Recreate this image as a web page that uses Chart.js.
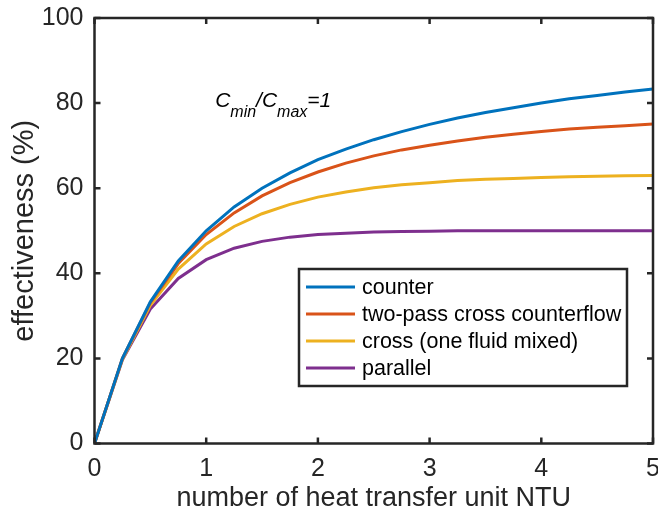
<!DOCTYPE html>
<html>
<head>
<meta charset="utf-8">
<style>
  html, body { margin: 0; padding: 0; background: #fff; }
  #wrap { width: 658px; height: 517px; }
</style>
<script src="https://cdn.jsdelivr.net/npm/chart.js@4/dist/chart.umd.min.js"></script>
</head>
<body>
<div id="wrap"><canvas id="chart" width="658" height="517"></canvas></div>
<script>
// NTU values (x) and effectiveness in % for each arrangement, Cmin/Cmax = 1
const ntu = [0, 0.25, 0.5, 0.75, 1, 1.25, 1.5, 1.75, 2, 2.25, 2.5, 2.75, 3, 3.25, 3.5, 3.75, 4, 4.25, 4.5, 4.75, 5];
const counter = [0, 20.0, 33.3, 42.9, 50.0, 55.6, 60.0, 63.6, 66.7, 69.2, 71.4, 73.3, 75.0, 76.5, 77.8, 78.9, 80.0, 81.0, 81.8, 82.6, 83.3];
const twoPass = [0, 20.0, 33.1, 42.3, 49.1, 54.2, 58.2, 61.3, 63.8, 65.9, 67.6, 69.0, 70.1, 71.1, 72.0, 72.7, 73.3, 73.9, 74.3, 74.7, 75.1];
const crossMixed = [0, 19.8, 32.5, 41.0, 46.9, 51.0, 54.0, 56.2, 57.9, 59.1, 60.1, 60.8, 61.3, 61.8, 62.1, 62.3, 62.5, 62.7, 62.8, 62.9, 63.0];
const parallel = [0, 19.7, 31.6, 38.8, 43.2, 45.9, 47.5, 48.5, 49.1, 49.4, 49.7, 49.8, 49.9, 50.0, 50.0, 50.0, 50.0, 50.0, 50.0, 50.0, 50.0];

const seriesNames = ["counter", "two-pass cross counterflow", "cross (one fluid mixed)", "parallel"];
const seriesColors = ["#0072BD", "#D95319", "#EDB120", "#7E2F8E"];
const seriesValues = [counter, twoPass, crossMixed, parallel];

const xTicks = [0, 1, 2, 3, 4, 5];
const yTicks = [0, 20, 40, 60, 80, 100];

const axisColor = "#262626";
const fontName = "'Liberation Sans', Arial, sans-serif";

// box round the plot, inward ticks on all four sides, annotation and legend
const matlabAxes = {
  id: "matlabAxes",
  afterDatasetsDraw(chart) {
    const { ctx, chartArea: a, scales } = chart;
    const x = scales.x, y = scales.y;
    ctx.save();
    ctx.strokeStyle = axisColor;
    ctx.lineWidth = 2.5;
    ctx.beginPath();
    xTicks.forEach(v => {
      const px = x.getPixelForValue(v);
      ctx.moveTo(px, a.bottom); ctx.lineTo(px, a.bottom - 6);
      ctx.moveTo(px, a.top); ctx.lineTo(px, a.top + 6);
    });
    yTicks.forEach(v => {
      const py = y.getPixelForValue(v);
      ctx.moveTo(a.left, py); ctx.lineTo(a.left + 6, py);
      ctx.moveTo(a.right, py); ctx.lineTo(a.right - 6, py);
    });
    ctx.stroke();
    ctx.strokeRect(a.left, a.top, a.right - a.left, a.bottom - a.top);

    // C_min/C_max=1
    let tx = x.getPixelForValue(1.08);
    const ty = y.getPixelForValue(79.2);
    const parts = [["C", 0], ["min", 1], ["/C", 0], ["max", 1], ["=1", 0]];
    ctx.fillStyle = "#000";
    ctx.textBaseline = "alphabetic";
    ctx.textAlign = "left";
    parts.forEach(([s, sub]) => {
      ctx.font = sub ? "italic 16px " + fontName : "italic 21px " + fontName;
      ctx.fillText(s, tx, sub ? ty + 10 : ty);
      tx += ctx.measureText(s).width;
    });

    // legend
    const lx = 299, ly = 269, lw = 328, lh = 117;
    ctx.fillStyle = "#fff";
    ctx.fillRect(lx, ly, lw, lh);
    ctx.strokeStyle = axisColor;
    ctx.lineWidth = 2.5;
    ctx.strokeRect(lx, ly, lw, lh);
    ctx.font = "21.5px " + fontName;
    ctx.textBaseline = "middle";
    chart.data.datasets.forEach((ds, i) => {
      const ry = ly + 18 + i * 27;
      ctx.strokeStyle = ds.borderColor;
      ctx.lineWidth = 3;
      ctx.beginPath();
      ctx.moveTo(lx + 7, ry);
      ctx.lineTo(lx + 56, ry);
      ctx.stroke();
      ctx.fillStyle = "#000";
      ctx.fillText(ds.label, lx + 63, ry + 1);
    });
    ctx.restore();
  }
};

new Chart(document.getElementById("chart"), {
  type: "line",
  data: {
    datasets: seriesValues.map((vals, i) => ({
      label: seriesNames[i],
      data: ntu.map((n, j) => ({ x: n, y: vals[j] })),
      borderColor: seriesColors[i],
      backgroundColor: seriesColors[i],
      borderWidth: 3,
      pointRadius: 0,
      tension: 0,
      fill: false
    }))
  },
  options: {
    responsive: false,
    animation: false,
    devicePixelRatio: 1,
    layout: { autoPadding: false, padding: { top: 18, right: 5, bottom: 0, left: 0 } },
    plugins: { legend: { display: false }, tooltip: { enabled: false } },
    scales: {
      x: {
        type: "linear",
        min: 0,
        max: 5,
        afterBuildTicks: s => { s.ticks = xTicks.map(v => ({ value: v })); },
        afterFit: s => { s.height = 73.5; s.paddingLeft = 0; s.paddingRight = 0; },
        grid: { display: false, drawTicks: false },
        border: { display: false },
        ticks: { color: axisColor, font: { family: fontName, size: 25 }, padding: 11 },
        title: {
          display: true,
          text: "number of heat transfer unit NTU",
          color: axisColor,
          font: { family: fontName, size: 27 },
          padding: { top: 0, bottom: 2 }
        }
      },
      y: {
        min: 0,
        max: 100,
        afterBuildTicks: s => { s.ticks = yTicks.map(v => ({ value: v })); },
        afterFit: s => { s.width = 94.5; s.paddingTop = 0; s.paddingBottom = 0; },
        grid: { display: false, drawTicks: false },
        border: { display: false },
        ticks: { color: axisColor, font: { family: fontName, size: 25 }, padding: 11 },
        title: {
          display: true,
          text: "effectiveness (%)",
          color: axisColor,
          font: { family: fontName, size: 29 },
          padding: { top: 8, bottom: 0 }
        }
      }
    }
  },
  plugins: [matlabAxes]
});
</script>
</body>
</html>
